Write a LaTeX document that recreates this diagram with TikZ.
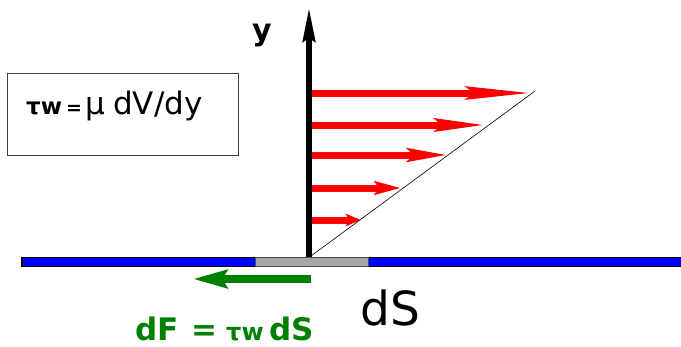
\documentclass[tikz,border=0pt]{standalone}
\usepackage{fontspec}
\setmainfont{DejaVu Sans}
\usetikzlibrary{arrows.meta}
\definecolor{plateblue}{RGB}{0,0,255}
\definecolor{darkgreen}{RGB}{0,128,0}
\definecolor{redarrow}{RGB}{255,0,0}
\begin{document}
\begin{tikzpicture}[x=1pt,y=-1pt,
  vel/.style={draw=redarrow,line width=7pt},
  lbl/.style={inner sep=0pt,anchor=base west}]
\useasboundingbox (0,0) rectangle (681,346);
% plate
\draw[fill=plateblue,draw=black,line width=1.2pt] (22,257.5) rectangle (690,266.5);
\draw[fill=black!35,draw=black!70,line width=1pt] (255.5,257.5) rectangle (368,266.5);
% velocity profile
\coordinate (o) at (311,256);
\coordinate (top) at (535,91);
\draw[line width=0.6pt] (o) -- (top);
\coordinate (s1) at (307,93);  \coordinate (e1) at (531,93);
\coordinate (s2) at (307,125); \coordinate (e2) at (485,125);
\coordinate (s3) at (307,155); \coordinate (e3) at (448,155);
\coordinate (s4) at (307,188); \coordinate (e4) at (401,188);
\coordinate (s5) at (307,220); \coordinate (e5) at (361,220);
\draw[vel,-{Stealth[length=65pt,width=13pt,inset=8pt]}] (s1) -- (e1);
\draw[vel,-{Stealth[length=50pt,width=13pt,inset=7pt]}] (s2) -- (e2);
\draw[vel,-{Stealth[length=40pt,width=13pt,inset=6pt]}] (s3) -- (e3);
\draw[vel,-{Stealth[length=26pt,width=13pt,inset=4pt]}] (s4) -- (e4);
\draw[vel,-{Stealth[length=15pt,width=12pt,inset=3pt]}] (s5) -- (e5);
% y axis
\coordinate (ybot) at (309,257);
\coordinate (ytop) at (309,7);
\draw[line width=6pt,-{Stealth[length=34pt,width=12pt,inset=3pt]}] (ybot) -- (ytop);
\node[lbl,font=\bfseries\fontsize{30}{30}\selectfont] (ylab) at (252,40) {y};
% formula box
\node[draw=black!75,line width=0.8pt,minimum width=231pt,minimum height=82pt,inner sep=0pt] (box) at (122.5,114) {};
\node[lbl] (formula) at (26,114.5) {\bfseries\fontsize{23}{23}\selectfont\makebox[40pt][l]{τw}\makebox[19pt][l]{\fontsize{19}{19}\selectfont =}\mdseries\fontsize{31}{31}\selectfont\makebox[28pt][l]{μ}dV/dy};
% friction force
\coordinate (fs) at (311,279);
\coordinate (fe) at (193,279);
\draw[darkgreen,line width=8pt,-{Stealth[length=34pt,width=18pt,inset=5pt]}] (fs) -- (fe);
\node[lbl,text=darkgreen,font=\bfseries] (force) at (135,340) {\fontsize{31}{31}\selectfont\makebox[56pt][l]{dF}\makebox[35pt][l]{=}\makebox[43pt][l]{\fontsize{24}{24}\selectfont τw}dS};
\node[lbl,font=\fontsize{47}{47}\selectfont] (ds) at (360,325) {dS};
\end{tikzpicture}
\end{document}
